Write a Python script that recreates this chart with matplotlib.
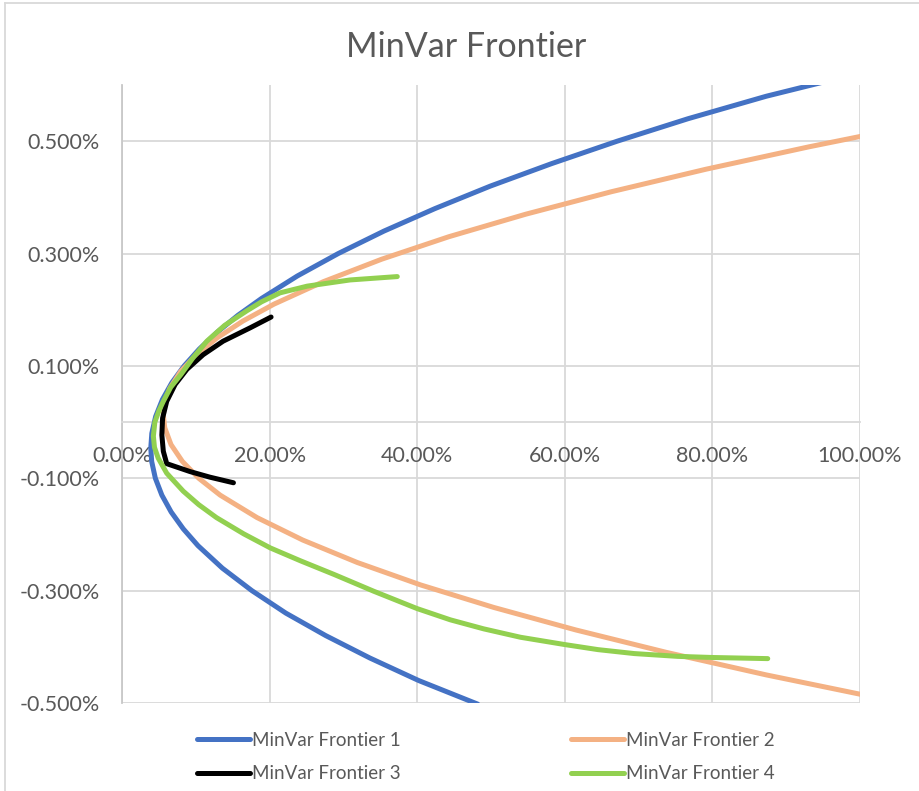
import matplotlib
matplotlib.use("Agg")
import matplotlib.pyplot as plt
from matplotlib.lines import Line2D

plt.rcParams['font.family'] = ['Lato', 'DejaVu Sans']

# Standard deviation (%) and expected return (%) along each frontier
f1_x = [48.2, 40.2, 33.6, 27.6, 22.2, 17.6, 13.6, 10.3, 8.3, 6.66, 5.40, 4.52, 4.02, 3.9,
        4.04, 4.56, 5.47, 6.75, 8.42, 10.47, 12.9, 15.7, 18.9, 23.75, 29.3, 35.5, 42.4,
        49.9, 58.2, 67.1, 76.7, 87.3, 96.5]
f1_y = [-0.502, -0.46, -0.42, -0.38, -0.34, -0.30, -0.26, -0.22, -0.19, -0.16, -0.13,
        -0.10, -0.07, -0.046, -0.02, 0.01, 0.04, 0.07, 0.10, 0.13, 0.16, 0.19, 0.22,
        0.26, 0.30, 0.34, 0.38, 0.42, 0.46, 0.50, 0.54, 0.58, 0.61]

f2_x = [102.1, 87.3, 73.8, 61.5, 50.4, 40.5, 31.9, 24.5, 18.3, 13.3, 10.4, 8.18, 6.64,
        5.79, 5.6, 5.8, 6.48, 7.93, 10.07, 12.9, 16.4, 20.6, 27.3, 35.2, 44.3, 54.7,
        66.3, 79.1, 93.1, 104.4]
f2_y = [-0.49, -0.45, -0.41, -0.37, -0.33, -0.29, -0.25, -0.21, -0.17, -0.13, -0.10,
        -0.07, -0.04, -0.01, 0.012, 0.035, 0.06, 0.09, 0.12, 0.15, 0.18, 0.21, 0.25,
        0.29, 0.33, 0.37, 0.41, 0.45, 0.49, 0.52]

f3_x = [15.1, 11.9, 9.2, 6.06, 5.6, 5.4, 5.5, 6.06, 7.2, 8.8, 11.0, 13.7, 17.4, 20.2]
f3_y = [-0.108, -0.098, -0.088, -0.074, -0.052, -0.023, 0.007, 0.037, 0.067, 0.094,
        0.120, 0.144, 0.168, 0.187]

f4_x = [87.5, 80.0, 75.3, 69.4, 64.5, 60.0, 54.0, 49.0, 44.5, 40.0, 34.1, 28.7, 24.2,
        20.1, 16.5, 12.8, 10.4, 8.3, 6.06, 4.9, 4.4, 4.25, 4.45, 5.0, 5.6, 6.6, 8.0,
        9.6, 11.5, 13.9, 16.9, 18.9, 21.4, 25.1, 30.9, 37.3]
f4_y = [-0.421, -0.419, -0.417, -0.412, -0.405, -0.396, -0.383, -0.368, -0.352, -0.332,
        -0.301, -0.271, -0.247, -0.224, -0.199, -0.170, -0.147, -0.123, -0.091, -0.064,
        -0.045, -0.025, 0.000, 0.020, 0.037, 0.062, 0.085, 0.114, 0.144, 0.172, 0.198,
        0.214, 0.230, 0.242, 0.253, 0.259]

series_names = ["MinVar Frontier 1", "MinVar Frontier 2", "MinVar Frontier 3", "MinVar Frontier 4"]
series_colors = ["#4472C4", "#F4B183", "#000000", "#92D050"]

x_ticks = [0, 20, 40, 60, 80, 100]
y_ticks = [-0.5, -0.3, -0.1, 0.1, 0.3, 0.5]

TEXT = "#595959"
GRID = "#D9D9D9"

fig = plt.figure(figsize=(9.2, 7.91), dpi=100)
ax = fig.add_axes([122 / 920, 1 - 703 / 791, (860 - 122) / 920, (703 - 85) / 791])

lines = []
for xs, ys, name, col in zip([f1_x, f2_x, f3_x, f4_x], [f1_y, f2_y, f3_y, f4_y],
                             series_names, series_colors):
    ln, = ax.plot(xs, ys, color=col, lw=3.6, solid_capstyle='round',
                  solid_joinstyle='round', label=name, zorder=3)
    lines.append(ln)

ax.set_xlim(0, 100)
ax.set_ylim(-0.5, 0.6)

ax.set_xticks(x_ticks)
ax.set_xticklabels([f"{v:.2f}%" for v in x_ticks])
ax.set_yticks(y_ticks)
ax.set_yticklabels([f"{v:.3f}%" for v in y_ticks])

ax.grid(True, color=GRID, lw=1.3, zorder=0)
ax.set_axisbelow(True)

for s in ['top', 'right']:
    ax.spines[s].set_visible(False)
ax.spines['bottom'].set_position(('data', 0))
ax.spines['bottom'].set_color(GRID)
ax.spines['bottom'].set_linewidth(1.3)
ax.spines['left'].set_color("#C8C8C8")
ax.spines['left'].set_linewidth(1.3)

ax.tick_params(axis='x', length=0, pad=17.5, labelsize=15.5, labelcolor=TEXT)
ax.tick_params(axis='y', length=0, pad=16, labelsize=15.5, labelcolor=TEXT)

fig.text(0.5065, 1 - 47 / 791, "MinVar Frontier", ha='center', va='center',
         fontsize=24.5, color=TEXT)

# Legend laid out row by row: 1, 2 on the first row, 3, 4 on the second
order = [0, 2, 1, 3]
fig.legend([lines[i] for i in order], [series_names[i] for i in order],
           ncol=2, loc='center', bbox_to_anchor=(486 / 920, 1 - 757 / 791),
           frameon=False, fontsize=13.5, labelcolor=TEXT, handlelength=2.83,
           handletextpad=0.1, columnspacing=9.1, labelspacing=0.87)

# Chart area border
fig.add_artist(Line2D([5 / 920, 5 / 920], [0, 1 - 3 / 791], transform=fig.transFigure,
                      color=GRID, lw=1.3))
fig.add_artist(Line2D([5 / 920, 1], [1 - 3 / 791, 1 - 3 / 791], transform=fig.transFigure,
                      color=GRID, lw=1.3))

fig.savefig("out.png", dpi=100)
